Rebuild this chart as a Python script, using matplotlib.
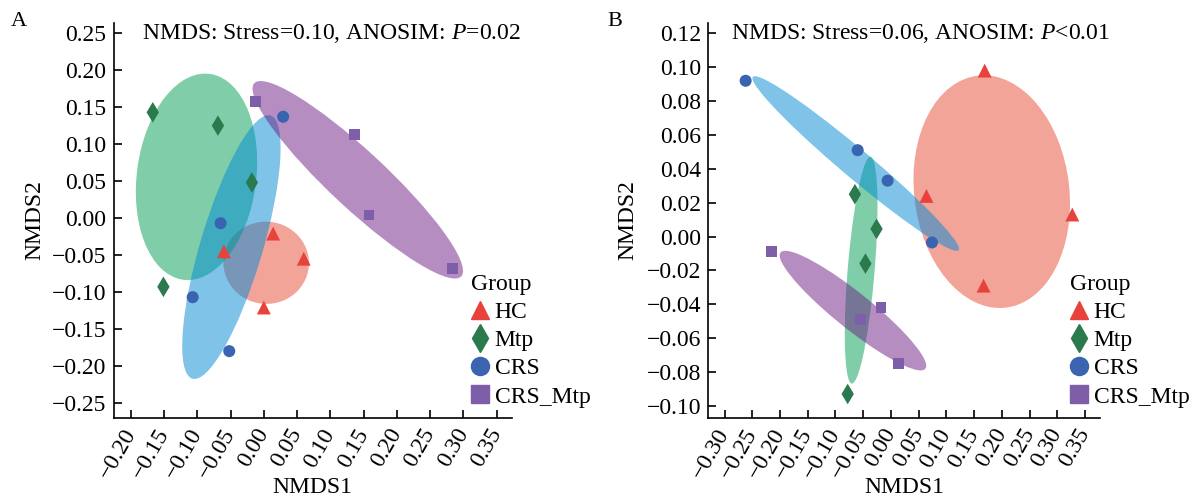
import matplotlib
matplotlib.use('Agg')
import matplotlib.pyplot as plt
import numpy as np
from matplotlib.patches import Ellipse
from matplotlib.lines import Line2D

plt.rcParams['font.family'] = ['Liberation Serif', 'DejaVu Serif']
plt.rcParams['mathtext.fontset'] = 'custom'
plt.rcParams['mathtext.rm'] = 'Liberation Serif'
plt.rcParams['mathtext.it'] = 'Liberation Serif:italic'

groups = ['HC', 'Mtp', 'CRS', 'CRS_Mtp']

# panel A scores
hc_a_x = [0.014, -0.060, 0.060, 0.000]
hc_a_y = [-0.021, -0.045, -0.055, -0.121]
mtp_a_x = [-0.167, -0.069, -0.018, -0.151]
mtp_a_y = [0.143, 0.125, 0.048, -0.093]
crs_a_x = [0.029, -0.065, -0.107, -0.052]
crs_a_y = [0.137, -0.007, -0.107, -0.180]
crsmtp_a_x = [-0.013, 0.136, 0.158, 0.284]
crsmtp_a_y = [0.158, 0.113, 0.004, -0.068]

# panel B scores
hc_b_x = [0.169, 0.064, 0.327, 0.167]
hc_b_y = [0.098, 0.024, 0.013, -0.029]
mtp_b_x = [-0.065, -0.026, -0.046, -0.078]
mtp_b_y = [0.025, 0.0045, -0.016, -0.093]
crs_b_x = [-0.262, -0.060, -0.006, 0.074]
crs_b_y = [0.092, 0.051, 0.033, -0.0035]
crsmtp_b_x = [-0.215, -0.018, -0.055, 0.014]
crsmtp_b_y = [-0.009, -0.042, -0.049, -0.075]

xticks_a = [-0.20, -0.15, -0.10, -0.05, 0.00, 0.05, 0.10, 0.15, 0.20, 0.25, 0.30, 0.35]
yticks_a = [-0.25, -0.20, -0.15, -0.10, -0.05, 0.00, 0.05, 0.10, 0.15, 0.20, 0.25]
xticks_b = [-0.30, -0.25, -0.20, -0.15, -0.10, -0.05, 0.00, 0.05, 0.10, 0.15, 0.20, 0.25, 0.30, 0.35]
yticks_b = [-0.10, -0.08, -0.06, -0.04, -0.02, 0.00, 0.02, 0.04, 0.06, 0.08, 0.10, 0.12]

title_a = r'NMDS: Stress=0.10, ANOSIM: $\mathit{P}$=0.02'
title_b = r'NMDS: Stress=0.06, ANOSIM: $\mathit{P}$<0.01'

markers = {'HC': '^', 'Mtp': 'd', 'CRS': 'o', 'CRS_Mtp': 's'}
msizes = {'HC': 100, 'Mtp': 110, 'CRS': 75, 'CRS_Mtp': 60}
pt_cols = {'HC': '#E8423C', 'Mtp': '#2A7A4E', 'CRS': '#3A64B0', 'CRS_Mtp': '#7E5EA8'}
ell_cols = {'HC': '#E64B35', 'Mtp': '#009F55', 'CRS': '#0089D5', 'CRS_Mtp': '#6D1D85'}
ELL_K = 1.3


def fmt(v):
    s = '%.2f' % v
    if s == '-0.00':
        s = '0.00'
    return s.replace('-', '\u2212')


def panel(ax, xs, ys, xlim, ylim, xt, yt, ylab_x):
    for g, x, y in zip(groups, xs, ys):
        x = np.array(x)
        y = np.array(y)
        cov = np.cov(x, y)
        vals, vecs = np.linalg.eigh(cov)
        ang = np.degrees(np.arctan2(vecs[1, 1], vecs[0, 1]))
        e = Ellipse((x.mean(), y.mean()), 2 * ELL_K * np.sqrt(vals[1]), 2 * ELL_K * np.sqrt(vals[0]),
                    angle=ang, facecolor=ell_cols[g], alpha=0.5, edgecolor='none', zorder=1)
        ax.add_patch(e)
    for g, x, y in zip(groups, xs, ys):
        ax.scatter(x, y, marker=markers[g], s=msizes[g], color=pt_cols[g], edgecolor='none', zorder=3)
    ax.set_xlim(xlim)
    ax.set_ylim(ylim)
    ax.set_xticks(xt)
    ax.set_xticklabels([fmt(v) for v in xt], rotation=60, ha='right', va='center', rotation_mode='anchor')
    ax.set_yticks(yt)
    ax.set_yticklabels([fmt(v) for v in yt])
    ax.tick_params(direction='in', length=5.5, width=1.2, labelsize=17)
    ax.tick_params(axis='y', pad=5)
    ax.tick_params(axis='x', pad=9)
    ax.spines['top'].set_visible(False)
    ax.spines['right'].set_visible(False)
    ax.spines['left'].set_linewidth(1.2)
    ax.spines['bottom'].set_linewidth(1.2)
    ax.set_xlabel('NMDS1', fontsize=17, va='center')
    ax.xaxis.set_label_coords(0.5, -0.178)
    ax.set_ylabel('NMDS2', fontsize=17, va='center')
    ax.yaxis.set_label_coords(ylab_x, 0.5)
    ax.patch.set_alpha(0)


fig = plt.figure(figsize=(12, 5), dpi=100)
axA = fig.add_axes([0.0946, 0.1646, 0.332, 0.789])
axB = fig.add_axes([0.5904, 0.1646, 0.3263, 0.789])

panel(axA, [hc_a_x, mtp_a_x, crs_a_x, crsmtp_a_x], [hc_a_y, mtp_a_y, crs_a_y, crsmtp_a_y],
      (-0.226, 0.373), (-0.270, 0.2635), xticks_a, yticks_a, -0.197)
panel(axB, [hc_b_x, mtp_b_x, crs_b_x, crsmtp_b_x], [hc_b_y, mtp_b_y, crs_b_y, crsmtp_b_y],
      (-0.329, 0.377), (-0.107, 0.126), xticks_b, yticks_b, -0.206)

fig.text(142 / 1200, 1 - 33 / 500, title_a, fontsize=17, ha='left', va='center')
fig.text(731 / 1200, 1 - 33 / 500, title_b, fontsize=17, ha='left', va='center')
fig.text(19 / 1200, 1 - 22 / 500, 'A', fontsize=16, ha='center', va='center')
fig.text(615 / 1200, 1 - 22 / 500, 'B', fontsize=16, ha='center', va='center')

handles = [Line2D([], [], linestyle='none', marker=markers[g], color=pt_cols[g],
                  markersize=13 if g != 'Mtp' else 14) for g in groups]
for ax, lx in [(axA, 471 / 1200), (axB, 1070 / 1200)]:
    leg = ax.legend(handles, groups, title='Group', loc='upper left', bbox_to_anchor=(lx, 1 - 274 / 500),
                    bbox_transform=fig.transFigure, frameon=False, fontsize=17, title_fontsize=17,
                    handlelength=0.8, handletextpad=0.2, labelspacing=0.28, borderpad=0,
                    borderaxespad=0, alignment='left')

fig.savefig('out.png', dpi=100)
